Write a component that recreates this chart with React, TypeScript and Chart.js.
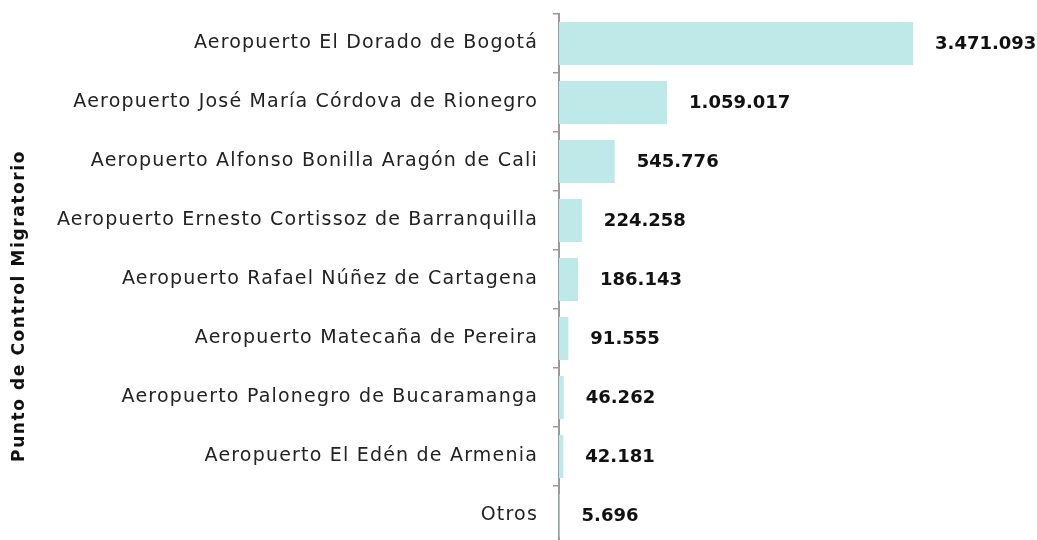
import React, { useEffect, useRef } from "react";
import { Chart, registerables } from "chart.js";

Chart.register(...registerables);

const categories = [
  "Aeropuerto El Dorado de Bogotá",
  "Aeropuerto José María Córdova de Rionegro",
  "Aeropuerto Alfonso Bonilla Aragón de Cali",
  "Aeropuerto Ernesto Cortissoz de Barranquilla",
  "Aeropuerto Rafael Núñez de Cartagena",
  "Aeropuerto Matecaña de Pereira",
  "Aeropuerto Palonegro de Bucaramanga",
  "Aeropuerto El Edén de Armenia",
  "Otros",
];
const values = [3471093, 1059017, 545776, 224258, 186143, 91555, 46262, 42181, 5696];
const axisTitle = "Punto de Control Migratorio";

const FONT = "'DejaVu Sans', 'Noto Sans', sans-serif";

function fmt(n: number): string {
  const s = String(Math.round(n));
  return s.replace(/\B(?=(\d{3})+(?!\d))/g, ".");
}

const spacing = {
  id: "spacing",
  beforeLayout(chart: any) {
    chart.ctx.letterSpacing = "1.2px";
  },
  beforeDraw(chart: any) {
    chart.ctx.letterSpacing = "1.2px";
  },
};

const valueLabels = {
  id: "valueLabels",
  afterDatasetsDraw(chart: any) {
    const ctx = chart.ctx;
    const meta = chart.getDatasetMeta(0);
    ctx.save();
    ctx.letterSpacing = "0px";
    ctx.font = `bold 18px ${FONT}`;
    ctx.fillStyle = "#111111";
    ctx.textAlign = "left";
    ctx.textBaseline = "middle";
    meta.data.forEach((bar: any, i: number) => {
      ctx.fillText(fmt(values[i]), bar.x + 22, bar.y + 1);
    });
    ctx.restore();
  },
};

const sideTitle = {
  id: "sideTitle",
  afterDraw(chart: any) {
    const ctx = chart.ctx;
    ctx.save();
    ctx.letterSpacing = "1.6px";
    ctx.translate(20, 306);
    ctx.rotate(-Math.PI / 2);
    ctx.font = `bold 17px ${FONT}`;
    ctx.fillStyle = "#111111";
    ctx.textAlign = "center";
    ctx.textBaseline = "middle";
    ctx.fillText(axisTitle, 0, 0);
    ctx.restore();
  },
};

export default function App() {
  const ref = useRef<HTMLCanvasElement | null>(null);
  useEffect(() => {
    document.body.style.margin = "0";
    document.body.style.overflow = "hidden";
    const chart = new Chart(ref.current as HTMLCanvasElement, {
      type: "bar",
      data: {
        labels: categories,
        datasets: [
          {
            data: values,
            backgroundColor: "#bfe8e8",
            borderWidth: 0,
            barPercentage: 0.73,
            categoryPercentage: 1,
          },
        ],
      },
      options: {
        indexAxis: "y",
        animation: false,
        responsive: false,
        maintainAspectRatio: false,
        layout: { padding: { top: 14, bottom: 5, right: 70, left: 0 } },
        plugins: { legend: { display: false }, tooltip: { enabled: false } },
        scales: {
          x: { display: false, min: 0, max: 4000000 },
          y: {
            afterFit(scale: any) {
              scale.width = 559;
              scale.paddingTop = 0;
              scale.paddingBottom = 0;
            },
            border: { display: true, color: "#9a9a9a", width: 2 },
            grid: {
              display: true,
              drawOnChartArea: false,
              drawTicks: true,
              tickLength: 6,
              color: "#9a9a9a",
              lineWidth: 1.5,
              offset: true,
            },
            ticks: {
              padding: 15,
              color: "#222222",
              font: { family: FONT, size: 19 },
            },
          },
        },
      },
      plugins: [spacing, valueLabels, sideTitle],
    } as any);
    return () => chart.destroy();
  }, []);
  return (
    <div style={{ position: "fixed", left: 0, top: 0, width: 1037, height: 540, overflow: "hidden", background: "#fff" }}>
      <canvas ref={ref} width={1037} height={550} style={{ display: "block" }} />
    </div>
  );
}
